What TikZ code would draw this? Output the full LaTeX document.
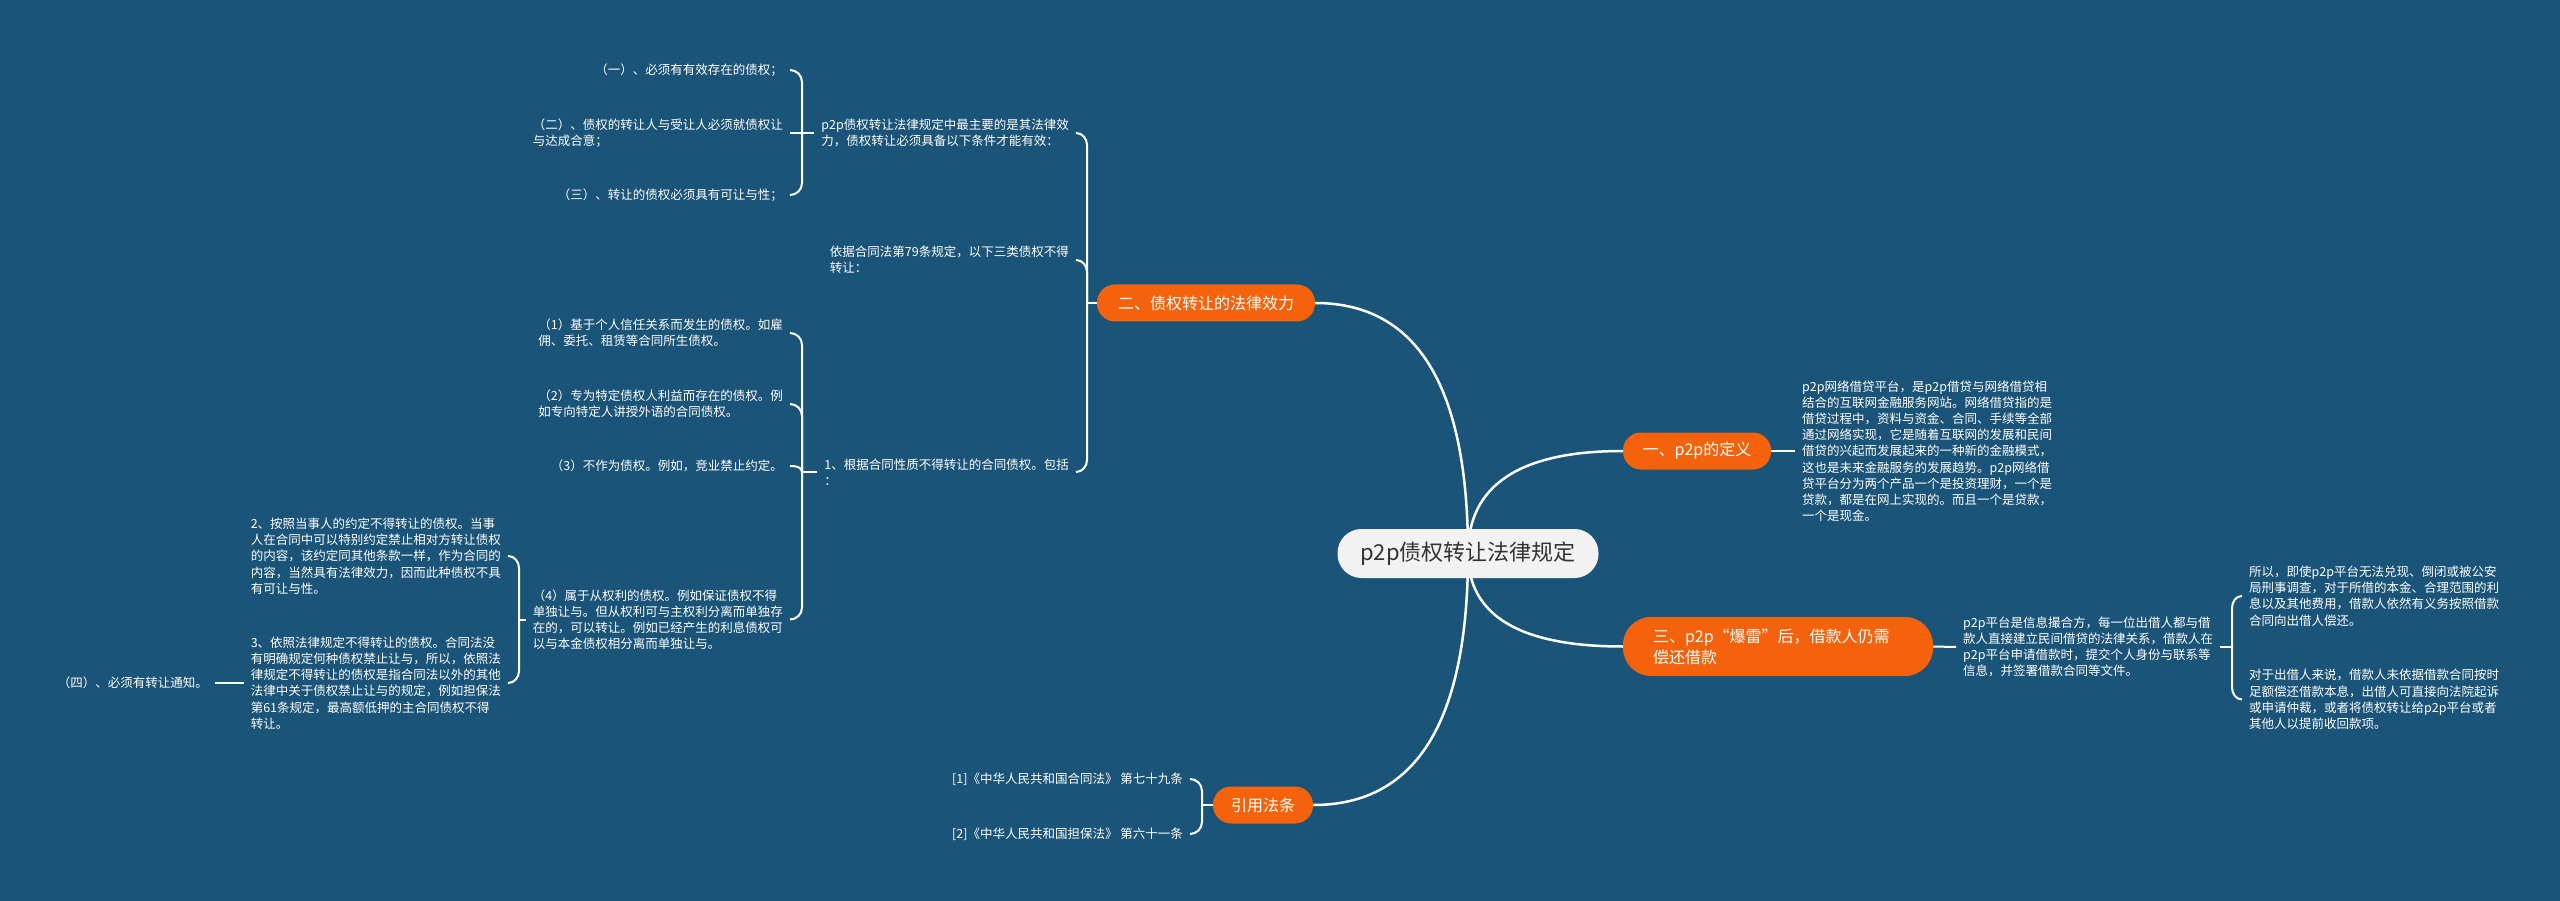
\documentclass[tikz,border=0pt]{standalone}
\usepackage{fontspec}
\setmainfont{Noto Sans CJK SC}
\usetikzlibrary{calc}
\definecolor{bgc}{RGB}{27,84,121}
\definecolor{org}{RGB}{244,99,12}
\definecolor{rootfill}{RGB}{242,242,242}
\definecolor{roottext}{RGB}{51,51,51}
\pgfdeclarelayer{bgl}
\pgfdeclarelayer{lnl}
\pgfsetlayers{bgl,lnl,main}
\tikzset{
  txt/.style={text=white, align=left, inner xsep=7pt, inner ysep=2pt,
    font=\fontsize{12.5pt}{16.2pt}\selectfont},
  topic/.style={fill=org, text=white, font=\fontsize{16pt}{21pt}\selectfont,
    inner sep=0pt, minimum height=37pt, rounded corners=18pt},
  rootn/.style={fill=rootfill, text=roottext, font=\fontsize{22pt}{26pt}\selectfont,
    inner sep=0pt, minimum width=261pt, minimum height=49pt, rounded corners=24pt},
  conn/.style={draw=white, line width=2pt},
  mainconn/.style={draw=white, line width=2.5pt},
}
% left-side child above / below junction
\newcommand{\lup}[2]{\draw[conn] (#1) -- ([yshift=-12pt]#1 |- #2.east) to[out=90,in=0] (#2.east);}
\newcommand{\ldn}[2]{\draw[conn] (#1) -- ([yshift=12pt]#1 |- #2.east) to[out=-90,in=0] (#2.east);}
% right-side child above / below junction
\newcommand{\rup}[2]{\draw[conn] (#1) -- ([yshift=-12pt]#1 |- #2.west) to[out=90,in=180] (#2.west);}
\newcommand{\rdn}[2]{\draw[conn] (#1) -- ([yshift=12pt]#1 |- #2.west) to[out=-90,in=180] (#2.west);}
% main curve from root
\newcommand{\mcurve}[2]{\coordinate (k#2) at (root.center |- #1);
  \draw[mainconn] (root.center) .. controls ($(root.center)!0.6667!(k#2)$) and ($(#1)!0.6667!(k#2)$) .. (#1);}
\begin{document}
\begin{tikzpicture}[x=1pt,y=-1pt]
\useasboundingbox (0,0) rectangle (2560,901);
\begin{pgfonlayer}{bgl}
\fill[bgc] (0,0) rectangle (2560,901);
\end{pgfonlayer}

% root and main topics
\node[rootn] (root) at (1468,553.5) {p2p债权转让法律规定};
\node[topic, minimum width=218pt] (er) at (1206,303) {二、债权转让的法律效力};
\node[topic, minimum width=148pt] (yi) at (1697,451) {一、p2p的定义};
\node[topic, minimum height=59pt, rounded corners=28pt, align=left, text width=250pt, inner xsep=30pt] (san) at (1778,646.5) {三、p2p“爆雷”后，借款人仍需\\偿还借款};
\node[topic, minimum width=100pt] (yy) at (1263,805) {引用法条};

% right side
\node[txt, anchor=west] (def) at (1795,451) {p2p网络借贷平台，是p2p借贷与网络借贷相\\结合的互联网金融服务网站。网络借贷指的是\\借贷过程中，资料与资金、合同、手续等全部\\通过网络实现，它是随着互联网的发展和民间\\借贷的兴起而发展起来的一种新的金融模式，\\这也是未来金融服务的发展趋势。p2p网络借\\贷平台分为两个产品一个是投资理财，一个是\\贷款，都是在网上实现的。而且一个是贷款，\\一个是现金。};
\node[txt, anchor=west] (t3) at (1956,647) {p2p平台是信息撮合方，每一位出借人都与借\\款人直接建立民间借贷的法律关系，借款人在\\p2p平台申请借款时，提交个人身份与联系等\\信息，并签署借款合同等文件。};
\coordinate (J3) at (2232,647);
\node[txt, anchor=west] (s1) at (2242,596) {所以，即使p2p平台无法兑现、倒闭或被公安\\局刑事调查，对于所借的本金、合理范围的利\\息以及其他费用，借款人依然有义务按照借款\\合同向出借人偿还。};
\node[txt, anchor=west] (s2) at (2242,699.5) {对于出借人来说，借款人未依据借款合同按时\\足额偿还借款本息，出借人可直接向法院起诉\\或申请仲裁，或者将债权转让给p2p平台或者\\其他人以提前收回款项。};

% bottom
\coordinate (JY) at (1202,805);
\node[txt, anchor=east] (r1) at (1190,779) {[1]《中华人民共和国合同法》 第七十九条};
\node[txt, anchor=east] (r2) at (1190,834) {[2]《中华人民共和国担保法》 第六十一条};

% left side
\coordinate (J2) at (1087,303);
\node[txt, anchor=east] (A) at (1076,133) {p2p债权转让法律规定中最主要的是其法律效\\力，债权转让必须具备以下条件才能有效：};
\node[txt, anchor=east] (B) at (1076,260) {依据合同法第79条规定，以下三类债权不得\\转让：};
\node[txt, anchor=east] (C) at (1076,472) {1、根据合同性质不得转让的合同债权。包括\\：};
\coordinate (JA) at (802,133);
\node[txt, anchor=east] (c1) at (790,70) {（一）、必须有有效存在的债权；};
\node[txt, anchor=east] (c2) at (790,133) {（二）、债权的转让人与受让人必须就债权让\\与达成合意；};
\node[txt, anchor=east] (c3) at (790,195) {（三）、转让的债权必须具有可让与性；};
\coordinate (JC) at (802,472);
\node[txt, anchor=east] (n1) at (790,333) {（1）基于个人信任关系而发生的债权。如雇\\佣、委托、租赁等合同所生债权。};
\node[txt, anchor=east] (n2) at (790,404) {（2）专为特定债权人利益而存在的债权。例\\如专向特定人讲授外语的合同债权。};
\node[txt, anchor=east] (n3) at (790,466) {（3）不作为债权。例如，竞业禁止约定。};
\node[txt, anchor=east] (n4) at (790,619.5) {（4）属于从权利的债权。例如保证债权不得\\单独让与。但从权利可与主权利分离而单独存\\在的，可以转让。例如已经产生的利息债权可\\以与本金债权相分离而单独让与。};
\coordinate (J4) at (519,619.5);
\node[txt, anchor=east] (D) at (508,556) {2、按照当事人的约定不得转让的债权。当事\\人在合同中可以特别约定禁止相对方转让债权\\的内容，该约定同其他条款一样，作为合同的\\内容，当然具有法律效力，因而此种债权不具\\有可让与性。};
\node[txt, anchor=east] (E) at (508,683) {3、依照法律规定不得转让的债权。合同法没\\有明确规定何种债权禁止让与，所以，依照法\\律规定不得转让的债权是指合同法以外的其他\\法律中关于债权禁止让与的规定，例如担保法\\第61条规定，最高额低押的主合同债权不得\\转让。};
\node[txt, anchor=east] (si) at (215,683) {（四）、必须有转让通知。};

\begin{pgfonlayer}{lnl}
\mcurve{er.east}{a}
\mcurve{yi.west}{b}
\mcurve{san.west}{c}
\mcurve{yy.east}{d}
% right
\draw[conn] (yi.east) -- (def.west);
\draw[conn] (san.east) -- (t3.west);
\draw[conn] (t3.east) -- (J3);
\rup{J3}{s1}
\rdn{J3}{s2}
% bottom
\draw[conn] (yy.west) -- (JY);
\lup{JY}{r1}
\ldn{JY}{r2}
% left
\draw[conn] (er.west) -- (J2);
\lup{J2}{A}
\lup{J2}{B}
\ldn{J2}{C}
\draw[conn] (A.west) -- (JA);
\lup{JA}{c1}
\draw[conn] (JA) -- (c2.east);
\ldn{JA}{c3}
\draw[conn] (C.west) -- (JC);
\lup{JC}{n1}
\lup{JC}{n2}
\draw[conn] (JC) to[out=90,in=0] (n3.east);
\ldn{JC}{n4}
\draw[conn] (n4.west) -- (J4);
\lup{J4}{D}
\ldn{J4}{E}
\draw[conn] (E.west) -- (si.east);
\end{pgfonlayer}
\end{tikzpicture}
\end{document}
